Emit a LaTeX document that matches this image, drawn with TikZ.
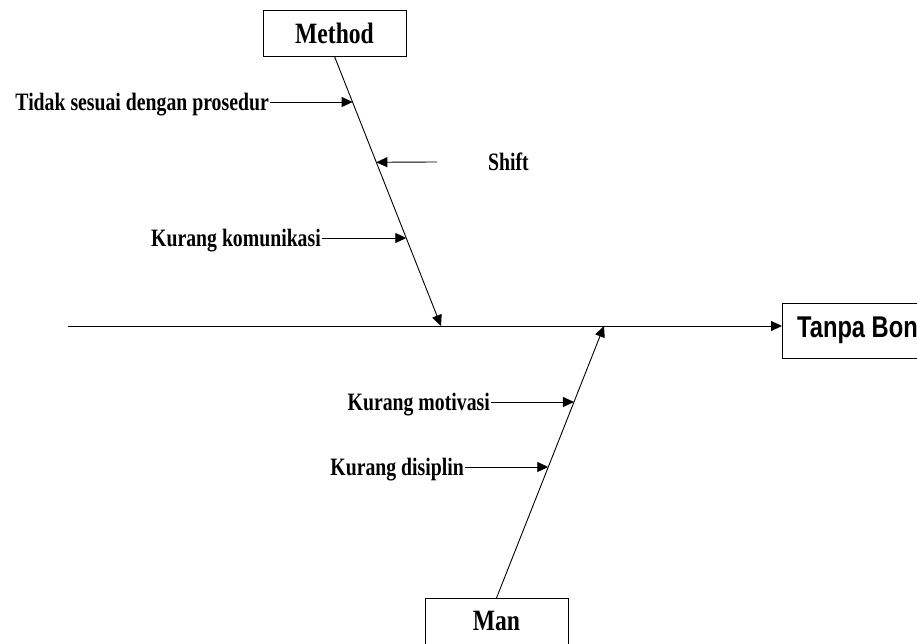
\documentclass[tikz,border=0pt]{standalone}
\usepackage{fontspec}
\usepackage{graphicx}
\setmainfont{Liberation Serif}
\newfontfamily\arialfont{Liberation Sans}
\usetikzlibrary{arrows.meta,calc}
\newcommand{\lbltxt}[1]{\scalebox{0.79}[1]{\fontsize{25}{30}\selectfont\bfseries #1}}
\newcommand{\ttltxt}[1]{\scalebox{0.8}[1]{\fontsize{29.5}{34}\selectfont\bfseries #1}}
\newcommand{\efftxt}[1]{\scalebox{0.79}[1]{\arialfont\fontsize{30}{34}\selectfont\bfseries #1}}
\begin{document}
\begin{tikzpicture}[x=1pt,y=-1pt,
  arr/.style={line width=0.9pt,-{Triangle[length=11pt,width=10pt]}},
  box/.style={draw,line width=0.9pt,inner sep=0pt},
  lbl/.style={inner sep=1pt,text height=16.5pt,text depth=0pt}]
\useasboundingbox (0,0) rectangle (917,644);
% boxes
\node[box,minimum width=143pt,minimum height=46pt] (method) at (334.5,33) {\ttltxt{Method}};
\node[box,anchor=north,minimum width=143pt,minimum height=50pt,text height=19.5pt,text depth=6pt] (man) at (496.5,598) {\ttltxt{Man}};
\node[box,anchor=west,minimum width=150pt,minimum height=55pt,text height=21.5pt,text depth=7pt] (effect) at (782,330.5) {\efftxt{Tanpa Bon}};
% main spine
\coordinate (tail) at (68,326);
\draw[arr] (tail) -- (tail -| effect.west);
% bones
\coordinate (mtip) at (441,326);
\coordinate (ntip) at (604,326);
\draw[arr] (method.south) -- (mtip);
\draw[arr] (man.north) -- (ntip);
\coordinate (m1) at ($(method.south)!0.1704!(mtip)$);
\coordinate (m2) at ($(method.south)!0.3926!(mtip)$);
\coordinate (m3) at ($(method.south)!0.6741!(mtip)$);
\coordinate (n1) at ($(man.north)!0.7206!(ntip)$);
\coordinate (n2) at ($(man.north)!0.4816!(ntip)$);
% causes
\node[lbl,anchor=east] (c1) at (270,102) {\lbltxt{Tidak sesuai dengan prosedur}};
\draw[arr] (c1.east) -- (c1.east -| m1);
\coordinate (s0) at (437,162);
\node[lbl,anchor=west] (shift) at (487,162) {\lbltxt{Shift}};
\draw[arr] (s0) -- (m2);
\node[lbl,anchor=east] (c3) at (322,238) {\lbltxt{Kurang komunikasi}};
\draw[arr] (c3.east) -- (c3.east -| m3);
\node[lbl,anchor=east] (c4) at (491,402) {\lbltxt{Kurang motivasi}};
\draw[arr] (c4.east) -- (c4.east -| n1);
\node[lbl,anchor=east] (c5) at (465,467) {\lbltxt{Kurang disiplin}};
\draw[arr] (c5.east) -- (c5.east -| n2);
\end{tikzpicture}
\end{document}
